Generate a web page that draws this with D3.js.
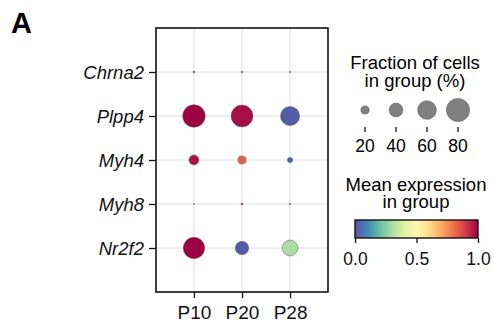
<!DOCTYPE html>
<html lang="en">
<head>
    <meta charset="UTF-8">
    <script src="https://cdnjs.cloudflare.com/ajax/libs/d3/7.8.5/d3.min.js"></script>
    <style>
        body { margin: 0; background: #fff; }
        text { font-family: "Liberation Sans", Arial, sans-serif; }
    </style>
</head>
<body>
<div id="chart"></div>
<script>
    var genes = ["Chrna2", "Plpp4", "Myh4", "Myh8", "Nr2f2"];
    var stages = ["P10", "P20", "P28"];
    // fraction of cells (%) per gene, one value per stage
    var fraction = [
        [3, 2.5, 2],
        [77, 74, 62],
        [26, 20, 11],
        [1.5, 3, 2.5],
        [72, 39, 48]
    ];
    // mean expression (0..1) per gene, one value per stage
    var expression = [
        [0.95, 0.92, 0.05],
        [1.0, 0.98, 0.02],
        [0.97, 0.83, 0.03],
        [0.1, 0.95, 0.8],
        [1.0, 0.02, 0.3]
    ];
    var sizeTicks = [20, 40, 60, 80];
    var colorTicks = [0, 0.5, 1];

    function drawChart() {
        var width = 494, height = 330;
        var svg = d3.select('#chart').append('svg')
            .attr('width', width)
            .attr('height', height);

        var pl = 156, pr = 328, pt = 28, pb = 292;

        var x = d3.scalePoint().domain(stages).range([pl, pr]).padding(0.79);
        var y = d3.scalePoint().domain(genes).range([pt, pb]).padding(1);
        var r = d3.scalePow().exponent(0.75).domain([0, 80]).range([0, 11.6]);
        var colour = function (v) { return d3.interpolateSpectral(1 - v); };

        // grid
        var grid = svg.append('g').attr('stroke', '#dedede').attr('stroke-width', 1);
        grid.selectAll('.vg').data(stages).enter().append('line')
            .attr('x1', d => x(d)).attr('x2', d => x(d))
            .attr('y1', pt).attr('y2', pb);
        grid.selectAll('.hg').data(genes).enter().append('line')
            .attr('y1', d => y(d)).attr('y2', d => y(d))
            .attr('x1', pl).attr('x2', pr);

        // dots
        var cells = [];
        genes.forEach(function (g, i) {
            stages.forEach(function (s, j) {
                cells.push({ gene: g, stage: s, frac: fraction[i][j], expr: expression[i][j] });
            });
        });
        svg.append('g').selectAll('circle').data(cells).enter().append('circle')
            .attr('cx', d => x(d.stage))
            .attr('cy', d => y(d.gene))
            .attr('r', d => r(d.frac))
            .attr('fill', d => colour(d.expr))
            .attr('stroke', '#666')
            .attr('stroke-width', 0.5);

        // axes
        var yAxis = svg.append('g')
            .attr('transform', 'translate(' + pl + ',0)')
            .call(d3.axisLeft(y).tickSize(7).tickPadding(5));
        yAxis.select('.domain').remove();
        yAxis.selectAll('text')
            .style('font-size', '18.5px')
            .style('font-style', 'italic')
            .attr('dy', '0.36em')
            .attr('fill', '#111');
        yAxis.selectAll('line').attr('stroke', '#111').attr('stroke-width', 1.3);

        var xAxis = svg.append('g')
            .attr('transform', 'translate(0,' + pb + ')')
            .call(d3.axisBottom(x).tickSize(6).tickPadding(8));
        xAxis.select('.domain').remove();
        xAxis.selectAll('text')
            .style('font-size', '19px')
            .attr('fill', '#111');
        xAxis.selectAll('line').attr('stroke', '#111').attr('stroke-width', 1.3);

        // frame
        svg.append('rect')
            .attr('x', pl).attr('y', pt)
            .attr('width', pr - pl).attr('height', pb - pt)
            .attr('fill', 'none')
            .attr('stroke', '#111')
            .attr('stroke-width', 1.6);

        // panel letter
        svg.append('text')
            .attr('x', 11).attr('y', 33)
            .style('font-size', '29px')
            .style('font-weight', 700)
            .text('A');

        // size legend
        var lx = d3.scalePoint().domain(sizeTicks).range([365, 458]);
        var sl = svg.append('g');
        sl.append('text').attr('x', 415).attr('y', 69).attr('text-anchor', 'middle')
            .style('font-size', '18.5px').text('Fraction of cells');
        sl.append('text').attr('x', 415).attr('y', 86.5).attr('text-anchor', 'middle')
            .style('font-size', '18.5px').text('in group (%)');
        sl.selectAll('circle').data(sizeTicks).enter().append('circle')
            .attr('cx', d => lx(d)).attr('cy', 110)
            .attr('r', d => r(d))
            .attr('fill', '#808080')
            .attr('stroke', '#555')
            .attr('stroke-width', 0.5);
        sl.selectAll('line').data(sizeTicks).enter().append('line')
            .attr('x1', d => lx(d)).attr('x2', d => lx(d))
            .attr('y1', 127).attr('y2', 132)
            .attr('stroke', '#111').attr('stroke-width', 1.3);
        sl.selectAll('.lt').data(sizeTicks).enter().append('text')
            .attr('x', d => lx(d)).attr('y', 152)
            .attr('text-anchor', 'middle')
            .style('font-size', '17.5px')
            .text(d => d);

        // colour legend
        var cx = d3.scaleLinear().domain([0, 1]).range([355, 478]);
        var defs = svg.append('defs');
        var grad = defs.append('linearGradient').attr('id', 'spec');
        d3.range(0, 1.001, 0.1).forEach(function (t) {
            grad.append('stop').attr('offset', t).attr('stop-color', colour(t));
        });
        var cl = svg.append('g');
        cl.append('text').attr('x', 416).attr('y', 190.5).attr('text-anchor', 'middle')
            .style('font-size', '18.5px').text('Mean expression');
        cl.append('text').attr('x', 416).attr('y', 208).attr('text-anchor', 'middle')
            .style('font-size', '18.5px').text('in group');
        cl.append('rect')
            .attr('x', cx(0)).attr('y', 220)
            .attr('width', cx(1) - cx(0)).attr('height', 18)
            .attr('fill', 'url(#spec)')
            .attr('stroke', '#111')
            .attr('stroke-width', 1.4);
        var cAxis = cl.append('g')
            .attr('transform', 'translate(0,238)')
            .call(d3.axisBottom(cx).tickValues(colorTicks).tickFormat(d3.format('.1f')).tickSize(5).tickPadding(10));
        cAxis.select('.domain').remove();
        cAxis.selectAll('text').style('font-size', '17.5px').attr('fill', '#111');
        cAxis.selectAll('line').attr('stroke', '#111').attr('stroke-width', 1.3);
    }
    drawChart();
</script>
</body>
</html>
